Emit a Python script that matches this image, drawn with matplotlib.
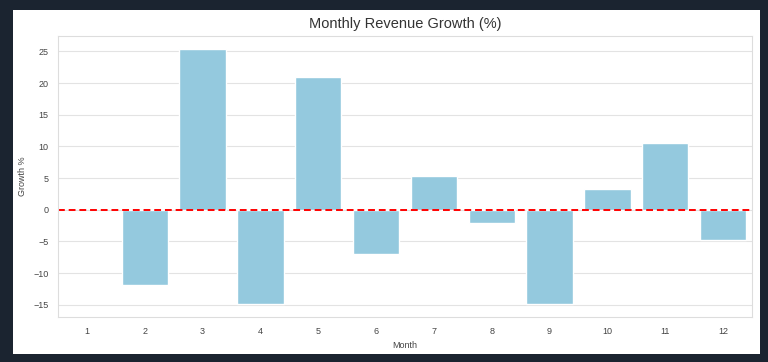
import numpy as np
import matplotlib
matplotlib.use("Agg")
import matplotlib.pyplot as plt
import seaborn as sns
from matplotlib.patches import Rectangle

months = [1, 2, 3, 4, 5, 6, 7, 8, 9, 10, 11, 12]
growth = [np.nan, -11.8, 25.4, -14.9, 21.0, -6.9, 5.3, -2.1, -14.9, 3.3, 10.5, -4.7]

sns.set_style("whitegrid")
plt.rcParams['font.family'] = ['Liberation Sans', 'DejaVu Sans']

fig = plt.figure(figsize=(7.68, 3.62), dpi=100, facecolor='#1b2430')
fig.patches.append(Rectangle((13/768, 8/362), 747/768, 344/362, transform=fig.transFigure,
                             facecolor='white', edgecolor='none', zorder=-10))
ax = fig.add_axes([58/768, 45/362, 694/768, 281/362])
ax.set_zorder(1)

sns.barplot(x=months, y=growth, color='skyblue', ax=ax)
ax.axhline(0, color='red', linestyle='--', linewidth=1.4, dashes=(3.5, 2))

ax.set_title("Monthly Revenue Growth (%)", fontsize=10.5, color='#333333', pad=6)
ax.set_xlabel("Month", fontsize=6.5, color='#444444', labelpad=4)
ax.set_ylabel("Growth %", fontsize=6.5, color='#444444', labelpad=4)
ax.tick_params(axis='both', labelsize=6.5, colors='#444444')
for s in ax.spines.values():
    s.set_color('#dddddd')
ax.grid(axis='y', color='#e3e3e3')
ax.grid(axis='x', visible=False)

fig.savefig("out.png", dpi=100, facecolor=fig.get_facecolor())
